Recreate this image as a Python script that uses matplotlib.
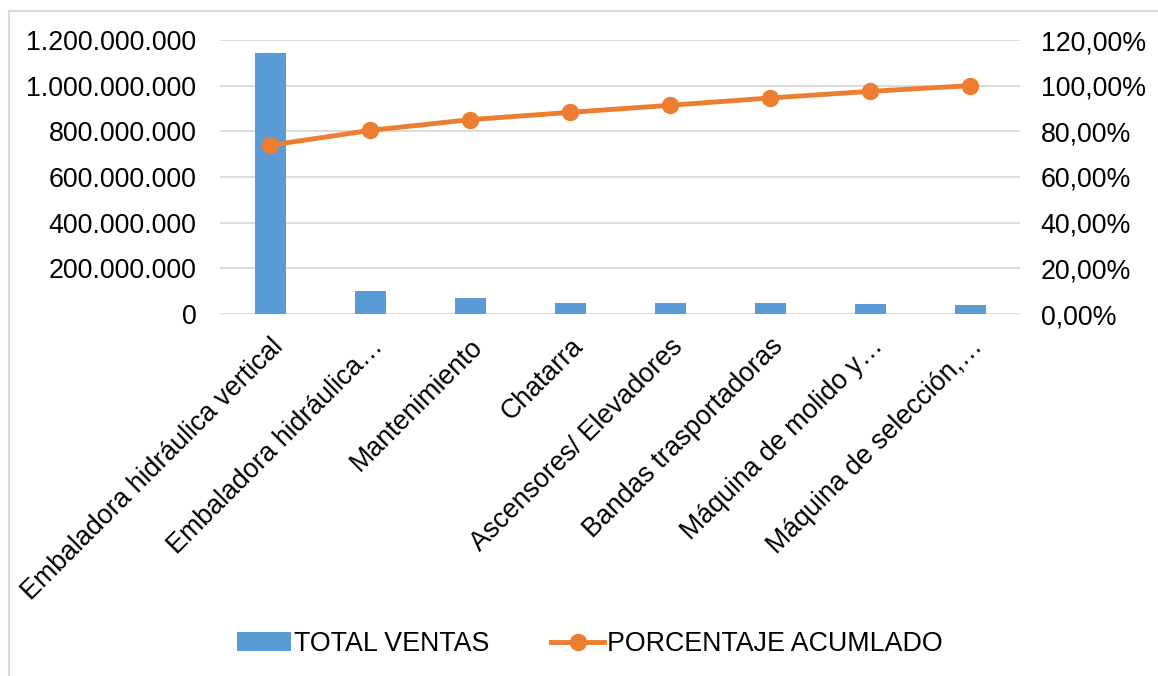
import matplotlib
matplotlib.use("Agg")
import matplotlib.pyplot as plt
from matplotlib.ticker import FuncFormatter, MultipleLocator
from matplotlib.lines import Line2D
from matplotlib.patches import Patch

plt.rcParams['font.family'] = ['Liberation Sans', 'DejaVu Sans']

categories = [
    "Embaladora hidráulica vertical",
    "Embaladora hidráulica…",
    "Mantenimiento",
    "Chatarra",
    "Ascensores/ Elevadores",
    "Bandas trasportadoras",
    "Máquina de molido y…",
    "Máquina de selección,…",
]
total_ventas = [1144e6, 100.7e6, 71.5e6, 49.6e6, 46.7e6, 49.6e6, 45.3e6, 38.0e6]
porcentaje_acumulado = [73.9, 80.4, 85.1, 88.3, 91.4, 94.6, 97.5, 100.0]

BLUE = "#5B9BD5"
ORANGE = "#ED7D31"
GRID = "#D9D9D9"
FS = 19.3

fig = plt.figure(figsize=(11.58, 6.76), dpi=100)
ax = fig.add_axes([220 / 1158, 1 - 314 / 676, 800 / 1158, 274 / 676])
x = list(range(len(categories)))

ax.bar(x, total_ventas, width=0.31, color=BLUE, zorder=2)
ax.set_xlim(-0.5, len(categories) - 0.5)
ax.set_ylim(0, 1.2e9)
ax.yaxis.set_major_locator(MultipleLocator(2e8))
ax.yaxis.set_major_formatter(FuncFormatter(lambda v, p: f"{int(round(v)):,}".replace(",", ".")))
ax.grid(axis='y', color=GRID, linewidth=1.3, zorder=0)
ax.set_axisbelow(True)
for s in ax.spines.values():
    s.set_visible(False)
ax.tick_params(axis='both', length=0, labelsize=FS, colors='black')
ax.tick_params(axis='y', pad=17)
ax.set_xticks(x)
ax.set_xticklabels(categories, rotation=45, ha='right', rotation_mode='anchor')
ax.tick_params(axis='x', pad=14)

ax2 = ax.twinx()
ax2.plot(x, porcentaje_acumulado, color=ORANGE, linewidth=3.5, marker='o',
         markersize=11.5, zorder=3)
ax2.set_ylim(0, 120)
ax2.yaxis.set_major_locator(MultipleLocator(20))
ax2.yaxis.set_major_formatter(FuncFormatter(lambda v, p: f"{v:.2f}".replace(".", ",") + "%"))
for s in ax2.spines.values():
    s.set_visible(False)
ax2.tick_params(axis='y', length=0, labelsize=FS, colors='black', pad=15)

handles = [
    Patch(facecolor=BLUE, edgecolor='none'),
    Line2D([0], [0], color=ORANGE, linewidth=3.5, marker='o', markersize=11.5),
]
fig.legend(handles, ["TOTAL VENTAS", "PORCENTAJE ACUMLADO"], loc='center',
           bbox_to_anchor=(590 / 1158, 1 - 644 / 676), ncol=2, frameon=False,
           fontsize=FS, handlelength=2.0, handletextpad=0.1, columnspacing=2.3)

# thin frame around the chart area
fig.add_artist(Line2D([9 / 1158, 9 / 1158], [0, 1 - 11 / 676], color=GRID,
                      linewidth=1.5, transform=fig.transFigure))
fig.add_artist(Line2D([9 / 1158, 1], [1 - 11 / 676, 1 - 11 / 676], color=GRID,
                      linewidth=1.5, transform=fig.transFigure))

fig.savefig("out.png", dpi=100)
